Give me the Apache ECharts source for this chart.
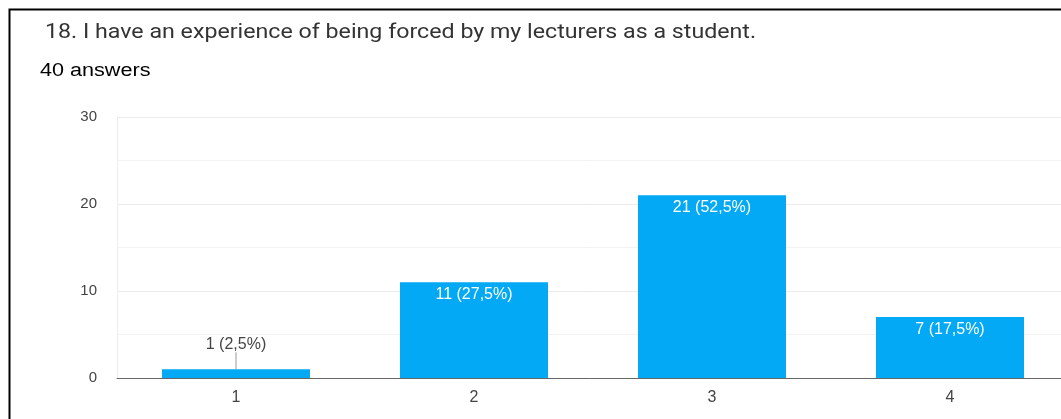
<!DOCTYPE html>
<html>
<head>
<meta charset="utf-8">
<script src="https://cdn.jsdelivr.net/npm/echarts@6/dist/echarts.min.js"></script>
<style>
  html, body { margin: 0; padding: 0; background: #fff; }
  #chart { width: 1061px; height: 419px; }
</style>
</head>
<body>
<div id="chart"></div>
<script>
  var questionTitle = '18. I have an experience of being forced by my lecturers as a student.';
  var answerCount = '40 answers';
  var categories = ['1', '2', '3', '4'];
  var counts = [1, 11, 21, 7];
  var percents = ['2,5%', '27,5%', '52,5%', '17,5%'];
  var yTicks = [0, 10, 20, 30];

  var chart = echarts.init(document.getElementById('chart'));

  // small bars get their label above with a short leader line
  var barData = counts.map(function (v, i) {
    var item = { value: v };
    if (v < 3) {
      item.label = { position: 'top', color: '#444', distance: 0 };
      item.labelLine = { show: true };
    }
    return item;
  });

  chart.setOption({
    animation: false,
    graphic: [
      {
        type: 'polyline',
        shape: { points: [[9.5, 430], [9.5, 9.5], [1070, 9.5]] },
        style: { stroke: '#000', lineWidth: 2, fill: null },
        z: 100
      },
      {
        type: 'text',
        x: 45, y: 33,
        scaleX: 1.16,
        style: {
          text: questionTitle,
          font: '20px Roboto',
          fill: '#333',
          verticalAlign: 'middle'
        }
      },
      {
        type: 'text',
        x: 40, y: 71,
        scaleX: 1.2,
        style: {
          text: answerCount,
          font: '18px "Liberation Sans"',
          fill: '#000',
          verticalAlign: 'middle'
        }
      }
    ],
    grid: { left: 117, width: 952, top: 117, bottom: 41, outerBoundsMode: 'none' },
    xAxis: {
      type: 'category',
      data: categories,
      axisLine: { lineStyle: { color: '#666', width: 1 } },
      axisTick: { show: false },
      axisLabel: { color: '#444', fontFamily: 'Liberation Sans', fontSize: 16, margin: 12 }
    },
    yAxis: {
      type: 'value',
      min: yTicks[0],
      max: yTicks[yTicks.length - 1],
      interval: 10,
      axisLine: { show: true, lineStyle: { color: '#eee' } },
      axisLabel: { color: '#444', fontFamily: 'Liberation Sans', fontSize: 15, margin: 20 },
      splitLine: { lineStyle: { color: '#ebebeb' } },
      minorTick: { show: true, splitNumber: 2, length: 0 },
      minorSplitLine: { show: true, lineStyle: { color: '#f3f3f3' } }
    },
    series: [
      {
        type: 'bar',
        data: barData,
        barWidth: 148,
        itemStyle: { color: '#03a9f4' },
        label: {
          show: true,
          position: 'insideTop',
          distance: 4,
          color: '#fff',
          fontFamily: 'Liberation Sans',
          fontSize: 16,
          formatter: function (p) {
            return p.value + ' (' + percents[p.dataIndex] + ')';
          }
        },
        labelLayout: function (params) {
          if (counts[params.dataIndex] < 3) {
            return { dy: -17 };
          }
        },
        labelLine: { show: false, lineStyle: { color: '#999', width: 1 } }
      }
    ]
  });
</script>
</body>
</html>
